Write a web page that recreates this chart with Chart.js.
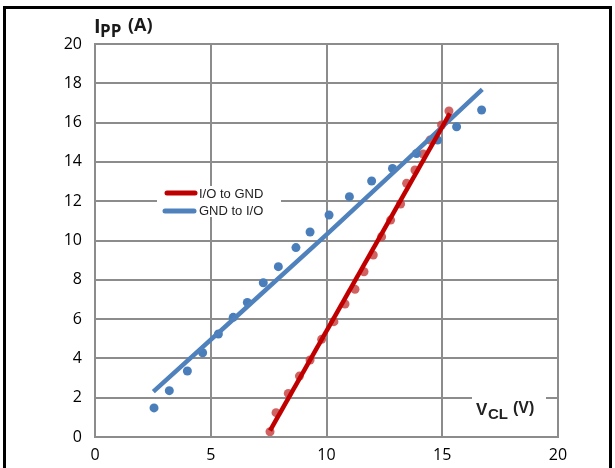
<!DOCTYPE html>
<html><head><meta charset="utf-8">
<script src="https://cdn.jsdelivr.net/npm/chart.js@4"></script>
<style>html,body{margin:0;padding:0;background:#fff}#c{display:block}</style>
</head><body>
<canvas id="c" width="615" height="468"></canvas>
<script>
// Data
const xTicks = [0, 5, 10, 15, 20];
const yTicks = [0, 2, 4, 6, 8, 10, 12, 14, 16, 18, 20];
const seriesNames = ["I/O to GND", "GND to I/O"];

const ioGndX = [7.56, 7.82, 8.35, 8.83, 9.29, 9.79, 10.32, 10.80, 11.23, 11.62, 12.02, 12.38, 12.77, 13.20, 13.46, 13.82, 14.18, 14.47, 14.97, 15.29];
const ioGndY = [0.27, 1.24, 2.22, 3.10, 3.92, 4.97, 5.87, 6.77, 7.52, 8.41, 9.26, 10.19, 11.04, 11.86, 12.91, 13.59, 14.40, 15.11, 15.88, 16.59];

const gndIoX = [2.55, 3.21, 3.99, 4.65, 5.33, 5.97, 6.58, 7.27, 7.92, 8.68, 9.29, 10.11, 10.99, 11.95, 12.85, 13.89, 14.80, 15.62, 16.70];
const gndIoY = [1.48, 2.36, 3.36, 4.29, 5.24, 6.09, 6.85, 7.85, 8.67, 9.64, 10.43, 11.30, 12.23, 13.03, 13.67, 14.43, 15.11, 15.79, 16.64];

const ioGndFitX = [7.56, 15.33];
const ioGndFitY = [0.32, 16.47];
const gndIoFitX = [2.52, 10.0, 16.73];
const gndIoFitY = [2.31, 10.3, 17.69];

const RED = '#c00000', RED_PT = 'rgba(200,70,70,0.85)', BLUE = '#4f81bd', BLUE_PT = '#4a7ebb';
const pts = (xs, ys) => xs.map((x, i) => ({x, y: ys[i]}));

const frame = {
  id: 'frame',
  beforeDraw(chart) {
    const ctx = chart.ctx;
    ctx.save();
    ctx.fillStyle = '#fff';
    ctx.fillRect(0, 0, chart.width, chart.height);
    ctx.restore();
  },
  afterDraw(chart) {
    const ctx = chart.ctx, a = chart.chartArea;
    ctx.save();
    // plot border
    ctx.strokeStyle = '#8c8c8c'; ctx.lineWidth = 2;
    ctx.strokeRect(a.left, a.top, a.right - a.left, a.bottom - a.top);
    // outer black frame
    ctx.strokeStyle = '#000'; ctx.lineWidth = 3;
    ctx.strokeRect(4.5, 7.5, 606, 480);
    // Y title: I_PP (A)
    ctx.fillStyle = '#1a1a1a';
    ctx.textBaseline = 'alphabetic';
    ctx.font = 'bold 20px "Open Sans", sans-serif';
    ctx.fillText('I', 94, 33);
    ctx.font = 'bold 17px "Open Sans", sans-serif';
    ctx.fillText('PP', 100, 37);
    ctx.font = 'bold 18px "Open Sans", sans-serif';
    ctx.fillText('(A)', 128, 31);
    // X title box
    ctx.fillStyle = '#fff';
    ctx.fillRect(472, 390, 74, 36);
    ctx.fillStyle = '#222';
    ctx.font = 'bold 17px "Liberation Sans", Arial, sans-serif';
    ctx.fillText('V', 476, 415);
    ctx.font = 'bold 15px "Liberation Sans", Arial, sans-serif';
    ctx.fillText('CL', 488, 419);
    ctx.font = 'bold 16px "Liberation Sans", Arial, sans-serif';
    ctx.fillText('(V)', 513, 413);
    // Legend
    ctx.fillStyle = '#fff';
    ctx.fillRect(157, 186, 124, 31);
    ctx.lineWidth = 5; ctx.lineCap = 'round';
    ctx.strokeStyle = RED;
    ctx.beginPath(); ctx.moveTo(167, 193); ctx.lineTo(195, 193); ctx.stroke();
    ctx.strokeStyle = BLUE;
    ctx.beginPath(); ctx.moveTo(165, 211); ctx.lineTo(194, 211); ctx.stroke();
    ctx.fillStyle = '#222';
    ctx.font = '13px "Liberation Sans", Arial, sans-serif';
    ctx.textBaseline = 'middle';
    ctx.fillText(seriesNames[0], 199, 194);
    ctx.fillText(seriesNames[1], 199, 211);
    ctx.restore();
  }
};

new Chart(document.getElementById('c'), {
  type: 'scatter',
  data: {
    datasets: [
      {label: seriesNames[0] + ' pts', data: pts(ioGndX, ioGndY), backgroundColor: RED_PT, borderColor: RED_PT, pointRadius: 4.5, borderWidth: 0, order: 3},
      {label: seriesNames[1] + ' pts', data: pts(gndIoX, gndIoY), backgroundColor: BLUE_PT, borderColor: BLUE_PT, pointRadius: 4.5, borderWidth: 0, order: 2},
      {label: seriesNames[1], data: pts(gndIoFitX, gndIoFitY), showLine: true, borderColor: BLUE, borderWidth: 4.5, pointRadius: 0, tension: 0.3, order: 1},
      {label: seriesNames[0], data: pts(ioGndFitX, ioGndFitY), showLine: true, borderColor: RED, borderWidth: 4.5, pointRadius: 0, order: 0}
    ]
  },
  options: {
    responsive: false,
    animation: false,
    layout: {padding: {left: 0, top: 44, right: 57, bottom: 0}},
    plugins: {legend: {display: false}, tooltip: {enabled: false}},
    scales: {
      x: {
        type: 'linear', min: 0, max: 20,
        afterBuildTicks: s => { s.ticks = xTicks.map(v => ({value: v})); },
        afterFit: s => { s.height = 31; },
        grid: {color: '#8c8c8c', lineWidth: 2, drawTicks: false},
        border: {display: false},
        ticks: {padding: 9, color: '#000', font: {family: '"Open Sans", sans-serif', size: 16}, maxRotation: 0}
      },
      y: {
        type: 'linear', min: 0, max: 20,
        afterBuildTicks: s => { s.ticks = yTicks.map(v => ({value: v})); },
        afterFit: s => { s.width = 95; },
        grid: {color: '#8c8c8c', lineWidth: 2, drawTicks: false},
        border: {display: false},
        ticks: {padding: 13, color: '#000', font: {family: '"Open Sans", sans-serif', size: 16}}
      }
    }
  },
  plugins: [frame]
});
</script>
</body></html>
